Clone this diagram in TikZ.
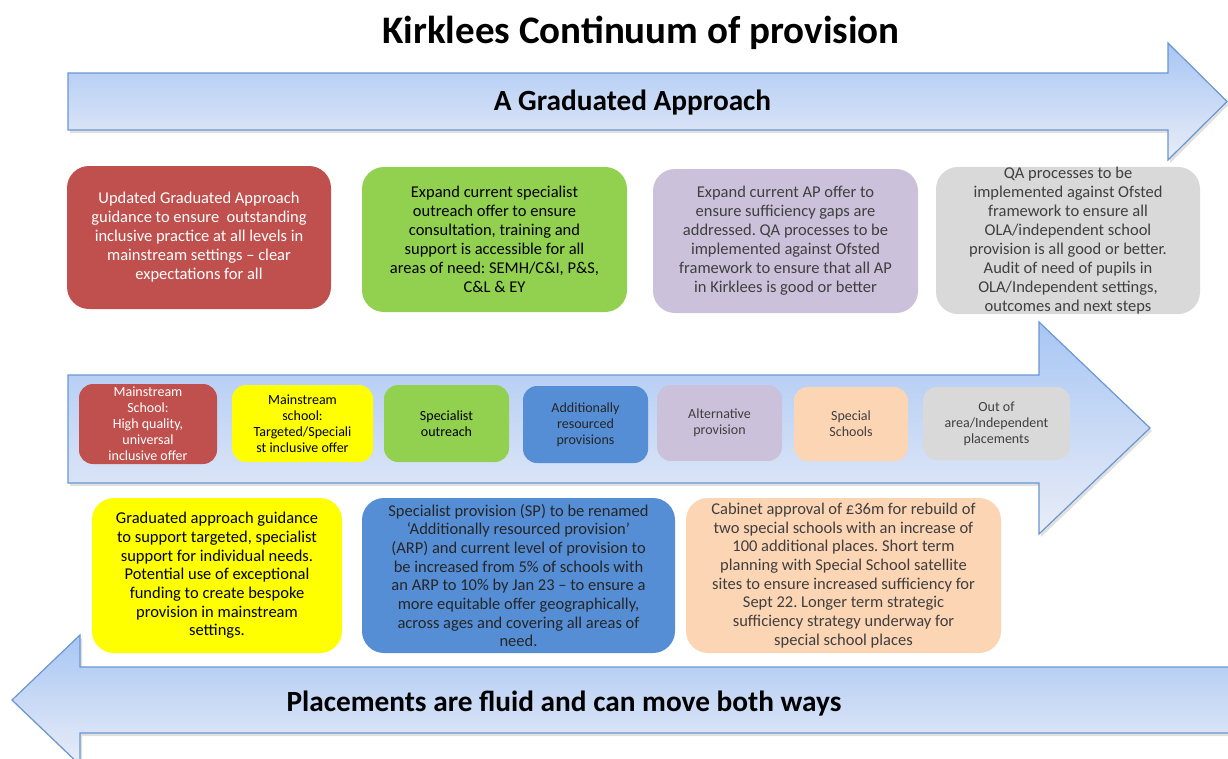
\documentclass[tikz,border=0pt]{standalone}
\usepackage{fontspec}
\setmainfont{Carlito}
\frenchspacing
\definecolor{kred}{HTML}{C0504D}
\definecolor{kgreen}{HTML}{92D050}
\definecolor{klav}{HTML}{CCC1DA}
\definecolor{kgray}{HTML}{D9D9D9}
\definecolor{kyellow}{HTML}{FFFF00}
\definecolor{kblue}{HTML}{558ED5}
\definecolor{kpeach}{HTML}{FCD5B5}
\definecolor{arrtop}{HTML}{A8C6F4}
\definecolor{arrbot}{HTML}{E9EDF7}
\definecolor{arrline}{HTML}{6A97D0}
\definecolor{ktext}{HTML}{3F3F3F}
\tikzset{
  bigarrow/.style={draw=arrline, line width=1.2pt, top color=arrtop, bottom color=arrbot, line join=miter},
  arrshadow/.style={fill=black, opacity=0.12},
  bigbox/.style={rounded corners=22pt, inner sep=0pt, align=center, font=\fontsize{16.5}{19}\selectfont},
  smallbox/.style={rounded corners=14pt, inner sep=0pt, align=center, font=\fontsize{14}{16}\selectfont},
  lowbox/.style={rounded corners=22pt, inner sep=0pt, align=center, font=\fontsize{16.5}{18.7}\selectfont},
  headtext/.style={font=\bfseries\fontsize{29.3}{34}\selectfont}
}
\begin{document}
\begin{tikzpicture}[x=1pt,y=-1pt]
\clip (0,0) rectangle (1228,758);
\fill[white] (0,0) rectangle (1228,758);
% top arrow
\fill[arrshadow] (70,76) -- (1170,76) -- (1170,46) -- (1229,104.5) -- (1170,163) -- (1170,133) -- (70,133) -- cycle;
\draw[bigarrow] (68,73) -- (1168,73) -- (1168,43) -- (1227,101.5) -- (1168,160) -- (1168,130) -- (68,130) -- cycle;
% middle arrow
\fill[arrshadow] (70,378) -- (1041,378) -- (1041,325) -- (1152,431) -- (1041,537) -- (1041,486) -- (70,486) -- cycle;
\draw[bigarrow] (68,375) -- (1039,375) -- (1039,322) -- (1150,428) -- (1039,534) -- (1039,483) -- (68,483) -- cycle;
% bottom arrow
\fill[arrshadow] (1242,670) -- (82,670) -- (82,638) -- (14,703) -- (82,768) -- (82,736) -- (1242,736) -- cycle;
\draw[bigarrow] (1240,667) -- (80,667) -- (80,635) -- (12,700) -- (80,765) -- (80,733) -- (1240,733) -- cycle;

\node[font=\bfseries\fontsize{39}{44}\selectfont] (title) at (641,33) {Kirklees Continuum of provision};
\node[headtext] (ga) at (632.5,103) {A Graduated Approach};
\node[headtext] (fluid) at (564,704) {Placements are fluid and can move both ways};

% top boxes
\node[bigbox, fill=kred, text=white, minimum width=264pt, minimum height=143pt] (t1) at (199,237.5)
 {Updated Graduated Approach\\guidance to ensure \ outstanding\\inclusive practice at all levels in\\mainstream settings – clear\\expectations for all};
\node[bigbox, fill=kgreen, text=black, minimum width=265pt, minimum height=145pt] (t2) at (494.5,239.5)
 {Expand current specialist\\outreach offer to ensure\\consultation, training and\\support is accessible for all\\areas of need: SEMH/C\&I, P\&S,\\C\&L \& EY};
\node[bigbox, fill=klav, text=ktext, minimum width=265pt, minimum height=144pt] (t3) at (785.5,241)
 {Expand current AP offer to\\ensure sufficiency gaps are\\addressed. QA processes to be\\implemented against Ofsted\\framework to ensure that all AP\\in Kirklees is good or better};
\node[bigbox, fill=kgray, text=ktext, minimum width=264pt, minimum height=143pt] (t4) at (1068,240.5)
 {QA processes to be\\implemented against Ofsted\\framework to ensure all\\OLA/independent school\\provision is all good or better.\\Audit of need of pupils in\\OLA/Independent settings,\\outcomes and next steps};

% middle boxes
\node[smallbox, fill=kred, text=white, minimum width=138pt, minimum height=80pt] (m1) at (148,424)
 {Mainstream\\School:\\High quality,\\universal\\inclusive offer};
\node[smallbox, fill=kyellow, text=black, minimum width=141pt, minimum height=77pt] (m2) at (302.5,423.5)
 {Mainstream\\school:\\Targeted/Speciali\\st inclusive offer};
\node[smallbox, fill=kgreen, text=black, minimum width=125pt, minimum height=77pt] (m3) at (446.5,423.5)
 {Specialist\\outreach};
\node[smallbox, fill=kblue, text=black!85, minimum width=125pt, minimum height=77pt] (m4) at (585.5,424.5)
 {Additionally\\resourced\\provisions};
\node[smallbox, fill=klav, text=ktext, minimum width=125pt, minimum height=76pt] (m5) at (719.5,423)
 {Alternative\\provision};
\node[smallbox, fill=kpeach, text=ktext, minimum width=114pt, minimum height=74pt] (m6) at (851,424)
 {Special\\Schools};
\node[smallbox, fill=kgray, text=ktext, minimum width=147pt, minimum height=73pt] (m7) at (996.5,423.5)
 {Out of\\area/Independent\\placements};

% bottom boxes
\node[lowbox, fill=kyellow, text=black, minimum width=250pt, minimum height=155pt] (b1) at (217,575.5)
 {\raisebox{-3pt}{\parbox{240pt}{\centering Graduated approach guidance\\to support targeted, specialist\\support for individual needs.\\Potential use of exceptional\\funding to create bespoke\\provision in mainstream\\settings.}}};
\node[lowbox, fill=kblue, text=black!85, minimum width=313pt, minimum height=155pt] (b2) at (518.5,575.5)
 {Specialist provision (SP) to be renamed\\‘Additionally resourced provision’\\(ARP) and current level of provision to\\be increased from 5\% of schools with\\an ARP to 10\% by Jan 23 – to ensure a\\more equitable offer geographically,\\across ages and covering all areas of\\need.};
\node[lowbox, fill=kpeach, text=ktext, minimum width=315pt, minimum height=155pt] (b3) at (843.5,575.5)
 {Cabinet approval of £36m for rebuild of\\two special schools with an increase of\\100 additional places. Short term\\planning with Special School satellite\\sites to ensure increased sufficiency for\\Sept 22. Longer term strategic\\sufficiency strategy underway for\\special school places};
\end{tikzpicture}
\end{document}
